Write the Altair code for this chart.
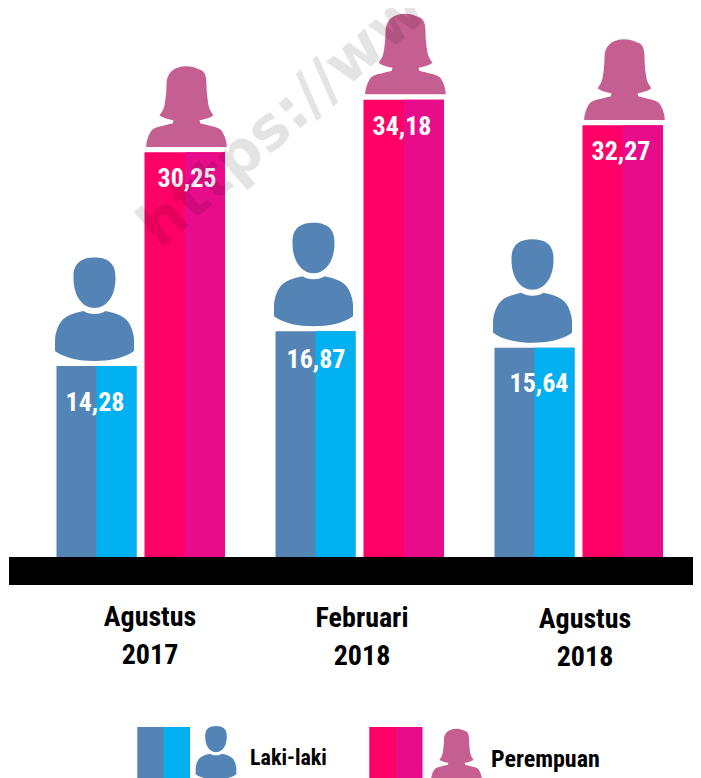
import altair as alt
import pandas as pd

categories = ["Agustus\n2017", "Februari\n2018", "Agustus\n2018"]
laki = [14.28, 16.87, 15.64]
perempuan = [30.25, 34.18, 32.27]
labels_laki = ["14,28", "16,87", "15,64"]
labels_perempuan = ["30,25", "34,18", "32,27"]

MALE = "M-21,-88C-21.5,-103-13,-108.5 0,-108.5C13,-108.5 21.5,-103 21,-88C21,-70 12,-58 0,-58C-12,-58-21,-70-21,-88Z" \
       "M-11,-55C-6,-51 6,-51 11,-55C20,-53 28,-51 33,-45C37,-40 39,-33 39.5,-27L39.5,-15C30,-8 15,-5 0,-5C-15,-5-30,-8-39.5,-15L-39.5,-27C-39,-33-37,-40-33,-45C-28,-51-20,-53-11,-55Z"
FEMALE = "M0,-86C8,-86 11,-83 15,-82C19,-80 20,-74 20,-68C20,-60 21,-53 22,-47C23,-42 25,-40 27,-37C23,-34 18,-33 13,-32L13.7,-29C20,-27 29,-26 33.7,-23C37,-20 40.3,-12 40.3,-5.3L-40.3,-5.3C-40.3,-12-37,-20-33.7,-23C-29,-26-20,-27-13.7,-29L-13,-32C-18,-33-23,-34-27,-37C-25,-40-23,-42-22,-47C-21,-53-20,-60-20,-68C-20,-78-14,-86 0,-86Z"

W, H = 685, 770
BASE, PX = 549, 13.38
PERIOD = 219
XS = alt.Scale(domain=[0, W], range=[0, W])
YS = alt.Scale(domain=[-(H - BASE) / PX, BASE / PX], range=[H, 0])
FONT = "Roboto Condensed, Oswald, Roboto"
C = {"a": "#5484b5", "b": "#00b0f0", "c": "#ff0066", "d": "#e80c8b"}
CS = alt.Scale(domain=list(C), range=list(C.values()))

rows, ic_m, ic_f = [], [], []
for i, cat in enumerate(categories):
    g = 132.5 + i * PERIOD
    # each first half runs under the second one so that no seam shows between them
    for k, v, x0, x1 in [("a", laki[i], g - 84, g - 4), ("b", laki[i], g - 44, g - 4),
                         ("c", perempuan[i], g + 4, g + 84.5), ("d", perempuan[i], g + 44.3, g + 84.5)]:
        rows.append(dict(k=k, v=v, x0=x0, x1=x1))
    ic_m.append(dict(x=g - 46, v=laki[i]))
    ic_f.append(dict(x=g + 46, v=perempuan[i]))

bars = alt.Chart(pd.DataFrame(rows)).mark_rect().encode(
    x=alt.X("x0:Q", scale=XS, axis=None), x2="x1:Q",
    y=alt.Y("v:Q", scale=YS, axis=None), y2=alt.Y2(datum=0),
    color=alt.Color("k:N", scale=CS, legend=None))

band = alt.Chart(pd.DataFrame({"a": [0]})).mark_rect(color="#000000").encode(
    x=alt.value(1), x2=alt.value(W), y=alt.value(BASE), y2=alt.value(BASE + 28))

def icons(data, path, color):
    return alt.Chart(pd.DataFrame(data)).mark_point(
        shape=path, size=4, filled=True, opacity=1, color=color, strokeWidth=0
    ).encode(x=alt.X("x:Q", scale=XS, axis=None), y=alt.Y("v:Q", scale=YS, axis=None))

ics = icons(ic_m, MALE, "#5484b5") + icons(ic_f, FEMALE, "#c55f92")

def vals(lbls, vs, xs, drops):
    d = pd.DataFrame(dict(t=lbls, v=[v - dr / PX for v, dr in zip(vs, drops)], x=xs))
    return alt.Chart(d).mark_text(font=FONT, fontWeight="bold", fontSize=26, color="#ffffff").encode(
        x=alt.X("x:Q", scale=XS, axis=None), y=alt.Y("v:Q", scale=YS, axis=None), text="t:N")

vm = vals(labels_laki, laki, [87, 308, 531], [37, 29, 36])
vf = vals(labels_perempuan, perempuan, [179, 394, 613], [27, 27, 27])

cat_df = pd.DataFrame(dict(t=categories, x=[142, 354, 577], py=[610, 611, 612]))
cats = alt.Chart(cat_df).mark_text(font=FONT, fontWeight="bold", fontSize=28, color="#000000",
                                   lineBreak="\n", lineHeight=38, baseline="middle").encode(
    x=alt.X("x:Q", scale=XS, axis=None), y=alt.Y("py:Q", scale=None, axis=None), text="t:N")

def swatch(a, b, c, k):
    d = pd.DataFrame(dict(k=[k[0], k[1]], x0=[a, b], x1=[c, c]))
    return alt.Chart(d).mark_rect().encode(
        x=alt.X("x0:Q", scale=XS, axis=None), x2="x1:Q",
        y=alt.value(719), y2=alt.value(H), color=alt.Color("k:N", scale=CS, legend=None))

leg = swatch(129.3, 155.7, 182, "ab") + swatch(361.3, 387.7, 414.3, "cd")
leg_ic = (
    alt.Chart(pd.DataFrame({"x": [208]})).mark_point(shape=MALE, size=4 * 0.515 ** 2, filled=True, opacity=1,
        color="#5484b5", strokeWidth=0).encode(x=alt.X("x:Q", scale=XS, axis=None), y=alt.value(774))
    + alt.Chart(pd.DataFrame({"x": [448.5]})).mark_point(shape=FEMALE, size=4 * 0.63 ** 2, filled=True, opacity=1,
        color="#c55f92", strokeWidth=0).encode(x=alt.X("x:Q", scale=XS, axis=None), y=alt.value(775))
)
leg_t = (
    alt.Chart(pd.DataFrame({"t": ["Laki-laki"], "x": [242]})).mark_text(font=FONT, fontWeight="bold", fontSize=22,
        color="#000000", align="left").encode(x=alt.X("x:Q", scale=XS, axis=None), y=alt.value(750), text="t:N")
    + alt.Chart(pd.DataFrame({"t": ["Perempuan"], "x": [483]})).mark_text(font=FONT, fontWeight="bold", fontSize=24,
        color="#000000", align="left").encode(x=alt.X("x:Q", scale=XS, axis=None), y=alt.value(752), text="t:N")
)

wm = alt.Chart(pd.DataFrame({"t": ["https://www"], "x": [152]})).mark_text(
    font="DejaVu Sans", fontWeight="bold", fontSize=60, color="#000000", opacity=0.1,
    angle=319, align="left", baseline="alphabetic").encode(
    x=alt.X("x:Q", scale=XS, axis=None), y=alt.value(242), text="t:N")

chart = alt.layer(bars, band, ics, vm, vf, cats, leg, leg_ic, leg_t, wm).properties(
    width=W, height=H, padding=0, autosize=alt.AutoSizeParams(type="none"), background="#ffffff"
).configure_view(stroke=None)

chart.save("out.html", embed_options={"renderer": "svg", "actions": False})
